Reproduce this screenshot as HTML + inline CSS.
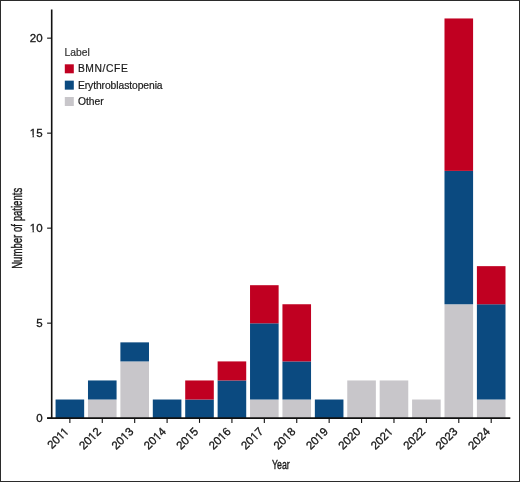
<!DOCTYPE html><html><head><meta charset="utf-8"><style>html,body{margin:0;padding:0;background:#fff;width:520px;height:482px;overflow:hidden}svg{display:block;will-change:transform}text{font-family:"Liberation Sans",sans-serif}.t{stroke:#111;stroke-width:0.3px}.l{stroke:#1a1a1a;stroke-width:0.2px}</style></head><body>
<svg width="520" height="482" viewBox="0 0 520 482">
<rect x="0" y="0" width="520" height="482" fill="#fff"/>
<rect x="55.57" y="399.52" width="28.60" height="19.05" fill="#0B4A80"/>
<rect x="87.98" y="399.52" width="28.60" height="19.05" fill="#C8C6CA"/>
<rect x="87.98" y="380.46" width="28.60" height="19.05" fill="#0B4A80"/>
<rect x="120.39" y="361.41" width="28.60" height="57.16" fill="#C8C6CA"/>
<rect x="120.39" y="342.36" width="28.60" height="19.05" fill="#0B4A80"/>
<rect x="152.80" y="399.52" width="28.60" height="19.05" fill="#0B4A80"/>
<rect x="185.21" y="399.52" width="28.60" height="19.05" fill="#0B4A80"/>
<rect x="185.21" y="380.46" width="28.60" height="19.05" fill="#C00021"/>
<rect x="217.62" y="380.46" width="28.60" height="38.11" fill="#0B4A80"/>
<rect x="217.62" y="361.41" width="28.60" height="19.05" fill="#C00021"/>
<rect x="250.03" y="399.52" width="28.60" height="19.05" fill="#C8C6CA"/>
<rect x="250.03" y="323.31" width="28.60" height="76.21" fill="#0B4A80"/>
<rect x="250.03" y="285.20" width="28.60" height="38.11" fill="#C00021"/>
<rect x="282.44" y="399.52" width="28.60" height="19.05" fill="#C8C6CA"/>
<rect x="282.44" y="361.41" width="28.60" height="38.11" fill="#0B4A80"/>
<rect x="282.44" y="304.25" width="28.60" height="57.16" fill="#C00021"/>
<rect x="314.85" y="399.52" width="28.60" height="19.05" fill="#0B4A80"/>
<rect x="347.26" y="380.46" width="28.60" height="38.11" fill="#C8C6CA"/>
<rect x="379.67" y="380.46" width="28.60" height="38.11" fill="#C8C6CA"/>
<rect x="412.08" y="399.52" width="28.60" height="19.05" fill="#C8C6CA"/>
<rect x="444.49" y="304.25" width="28.60" height="114.32" fill="#C8C6CA"/>
<rect x="444.49" y="170.88" width="28.60" height="133.37" fill="#0B4A80"/>
<rect x="444.49" y="18.46" width="28.60" height="152.42" fill="#C00021"/>
<rect x="476.90" y="399.52" width="28.60" height="19.05" fill="#C8C6CA"/>
<rect x="476.90" y="304.25" width="28.60" height="95.27" fill="#0B4A80"/>
<rect x="476.90" y="266.15" width="28.60" height="38.11" fill="#C00021"/>
<line x1="51.7" y1="9.5" x2="51.7" y2="418.9" stroke="#111" stroke-width="1.6"/>
<line x1="47.1" y1="418.15" x2="510.3" y2="418.15" stroke="#111" stroke-width="1.7"/>
<line x1="47.1" y1="418.15" x2="51.7" y2="418.15" stroke="#111" stroke-width="1.1"/>
<g transform="translate(42.6,421.65) rotate(0.01)"><text class="t" x="0" y="0" font-size="11.5" text-anchor="end" fill="#1a1a1a">0</text></g>
<line x1="47.1" y1="323.15" x2="51.7" y2="323.15" stroke="#111" stroke-width="1.1"/>
<g transform="translate(42.6,326.65) rotate(0.01)"><text class="t" x="0" y="0" font-size="11.5" text-anchor="end" fill="#1a1a1a">5</text></g>
<line x1="47.1" y1="228.15" x2="51.7" y2="228.15" stroke="#111" stroke-width="1.1"/>
<g transform="translate(42.6,231.65) rotate(0.01)"><text class="t" x="0" y="0" font-size="11.5" text-anchor="end" fill="#1a1a1a">10</text><rect x="-12.63" y="-1.36" width="2.58" height="2.36" fill="#fff"/><rect x="-8.73" y="-1.36" width="2.28" height="2.36" fill="#fff"/></g>
<line x1="47.1" y1="133.15" x2="51.7" y2="133.15" stroke="#111" stroke-width="1.1"/>
<g transform="translate(42.6,136.65) rotate(0.01)"><text class="t" x="0" y="0" font-size="11.5" text-anchor="end" fill="#1a1a1a">15</text><rect x="-12.63" y="-1.36" width="2.58" height="2.36" fill="#fff"/><rect x="-8.73" y="-1.36" width="2.28" height="2.36" fill="#fff"/></g>
<line x1="47.1" y1="38.15" x2="51.7" y2="38.15" stroke="#111" stroke-width="1.1"/>
<g transform="translate(42.6,41.65) rotate(0.01)"><text class="t" x="0" y="0" font-size="11.5" text-anchor="end" fill="#1a1a1a">20</text></g>
<line x1="69.87" y1="418.15" x2="69.87" y2="422.9" stroke="#111" stroke-width="1.1"/>
<g transform="translate(69.47,432.10) rotate(-45)"><text class="t" x="0" y="0" font-size="11.5" text-anchor="end" fill="#1a1a1a">2011</text><rect x="-11.78" y="-1.36" width="2.58" height="2.36" fill="#fff"/><rect x="-7.88" y="-1.36" width="2.28" height="2.36" fill="#fff"/><rect x="-6.23" y="-1.36" width="2.58" height="2.36" fill="#fff"/><rect x="-2.34" y="-1.36" width="2.28" height="2.36" fill="#fff"/></g>
<line x1="102.28" y1="418.15" x2="102.28" y2="422.9" stroke="#111" stroke-width="1.1"/>
<g transform="translate(101.88,432.10) rotate(-45)"><text class="t" x="0" y="0" font-size="11.5" text-anchor="end" fill="#1a1a1a">2012</text><rect x="-12.63" y="-1.36" width="2.58" height="2.36" fill="#fff"/><rect x="-8.73" y="-1.36" width="2.28" height="2.36" fill="#fff"/></g>
<line x1="134.69" y1="418.15" x2="134.69" y2="422.9" stroke="#111" stroke-width="1.1"/>
<g transform="translate(134.29,432.10) rotate(-45)"><text class="t" x="0" y="0" font-size="11.5" text-anchor="end" fill="#1a1a1a">2013</text><rect x="-12.63" y="-1.36" width="2.58" height="2.36" fill="#fff"/><rect x="-8.73" y="-1.36" width="2.28" height="2.36" fill="#fff"/></g>
<line x1="167.10" y1="418.15" x2="167.10" y2="422.9" stroke="#111" stroke-width="1.1"/>
<g transform="translate(166.70,432.10) rotate(-45)"><text class="t" x="0" y="0" font-size="11.5" text-anchor="end" fill="#1a1a1a">2014</text><rect x="-12.63" y="-1.36" width="2.58" height="2.36" fill="#fff"/><rect x="-8.73" y="-1.36" width="2.28" height="2.36" fill="#fff"/></g>
<line x1="199.51" y1="418.15" x2="199.51" y2="422.9" stroke="#111" stroke-width="1.1"/>
<g transform="translate(199.11,432.10) rotate(-45)"><text class="t" x="0" y="0" font-size="11.5" text-anchor="end" fill="#1a1a1a">2015</text><rect x="-12.63" y="-1.36" width="2.58" height="2.36" fill="#fff"/><rect x="-8.73" y="-1.36" width="2.28" height="2.36" fill="#fff"/></g>
<line x1="231.92" y1="418.15" x2="231.92" y2="422.9" stroke="#111" stroke-width="1.1"/>
<g transform="translate(231.52,432.10) rotate(-45)"><text class="t" x="0" y="0" font-size="11.5" text-anchor="end" fill="#1a1a1a">2016</text><rect x="-12.63" y="-1.36" width="2.58" height="2.36" fill="#fff"/><rect x="-8.73" y="-1.36" width="2.28" height="2.36" fill="#fff"/></g>
<line x1="264.33" y1="418.15" x2="264.33" y2="422.9" stroke="#111" stroke-width="1.1"/>
<g transform="translate(263.93,432.10) rotate(-45)"><text class="t" x="0" y="0" font-size="11.5" text-anchor="end" fill="#1a1a1a">2017</text><rect x="-12.63" y="-1.36" width="2.58" height="2.36" fill="#fff"/><rect x="-8.73" y="-1.36" width="2.28" height="2.36" fill="#fff"/></g>
<line x1="296.74" y1="418.15" x2="296.74" y2="422.9" stroke="#111" stroke-width="1.1"/>
<g transform="translate(296.34,432.10) rotate(-45)"><text class="t" x="0" y="0" font-size="11.5" text-anchor="end" fill="#1a1a1a">2018</text><rect x="-12.63" y="-1.36" width="2.58" height="2.36" fill="#fff"/><rect x="-8.73" y="-1.36" width="2.28" height="2.36" fill="#fff"/></g>
<line x1="329.15" y1="418.15" x2="329.15" y2="422.9" stroke="#111" stroke-width="1.1"/>
<g transform="translate(328.75,432.10) rotate(-45)"><text class="t" x="0" y="0" font-size="11.5" text-anchor="end" fill="#1a1a1a">2019</text><rect x="-12.63" y="-1.36" width="2.58" height="2.36" fill="#fff"/><rect x="-8.73" y="-1.36" width="2.28" height="2.36" fill="#fff"/></g>
<line x1="361.56" y1="418.15" x2="361.56" y2="422.9" stroke="#111" stroke-width="1.1"/>
<g transform="translate(361.16,432.10) rotate(-45)"><text class="t" x="0" y="0" font-size="11.5" text-anchor="end" fill="#1a1a1a">2020</text></g>
<line x1="393.97" y1="418.15" x2="393.97" y2="422.9" stroke="#111" stroke-width="1.1"/>
<g transform="translate(393.57,432.10) rotate(-45)"><text class="t" x="0" y="0" font-size="11.5" text-anchor="end" fill="#1a1a1a">2021</text><rect x="-6.23" y="-1.36" width="2.58" height="2.36" fill="#fff"/><rect x="-2.34" y="-1.36" width="2.28" height="2.36" fill="#fff"/></g>
<line x1="426.38" y1="418.15" x2="426.38" y2="422.9" stroke="#111" stroke-width="1.1"/>
<g transform="translate(425.98,432.10) rotate(-45)"><text class="t" x="0" y="0" font-size="11.5" text-anchor="end" fill="#1a1a1a">2022</text></g>
<line x1="458.79" y1="418.15" x2="458.79" y2="422.9" stroke="#111" stroke-width="1.1"/>
<g transform="translate(458.39,432.10) rotate(-45)"><text class="t" x="0" y="0" font-size="11.5" text-anchor="end" fill="#1a1a1a">2023</text></g>
<line x1="491.20" y1="418.15" x2="491.20" y2="422.9" stroke="#111" stroke-width="1.1"/>
<g transform="translate(490.80,432.10) rotate(-45)"><text class="t" x="0" y="0" font-size="11.5" text-anchor="end" fill="#1a1a1a">2024</text></g>
<text x="0" y="0" font-size="13.6" text-anchor="middle" fill="#1a1a1a" stroke="#1a1a1a" stroke-width="0.4" transform="translate(280.9,468.7) scale(0.647,1)">Year</text>
<text x="0" y="0" font-size="14" text-anchor="middle" fill="#1a1a1a" stroke="#1a1a1a" stroke-width="0.4" transform="translate(21.8,228.3) rotate(-90) scale(0.686,1)">Number of patients</text>
<text class="l" style="stroke:#333" x="0" y="0" font-size="10.3" fill="#333" transform="translate(64.6,55.9) rotate(0.01)">Label</text>
<rect x="64.8" y="64.30" width="9" height="9" fill="#C00021"/>
<text class="l" x="0" y="0" font-size="10.3" fill="#1a1a1a" textLength="50" lengthAdjust="spacing" transform="translate(77.9,72.30) rotate(0.01)">BMN/CFE</text>
<rect x="64.8" y="80.65" width="9" height="9" fill="#0B4A80"/>
<text class="l" x="0" y="0" font-size="10.3" fill="#1a1a1a" textLength="84.7" lengthAdjust="spacing" transform="translate(77.9,88.65) rotate(0.01)">Erythroblastopenia</text>
<rect x="64.8" y="97.00" width="9" height="9" fill="#C8C6CA"/>
<text class="l" x="0" y="0" font-size="10.3" fill="#1a1a1a" transform="translate(77.9,105.00) rotate(0.01)">Other</text>
<rect x="0.5" y="0.5" width="519" height="481" fill="none" stroke="#2b2b2b" stroke-width="1"/>
</svg></body></html>
